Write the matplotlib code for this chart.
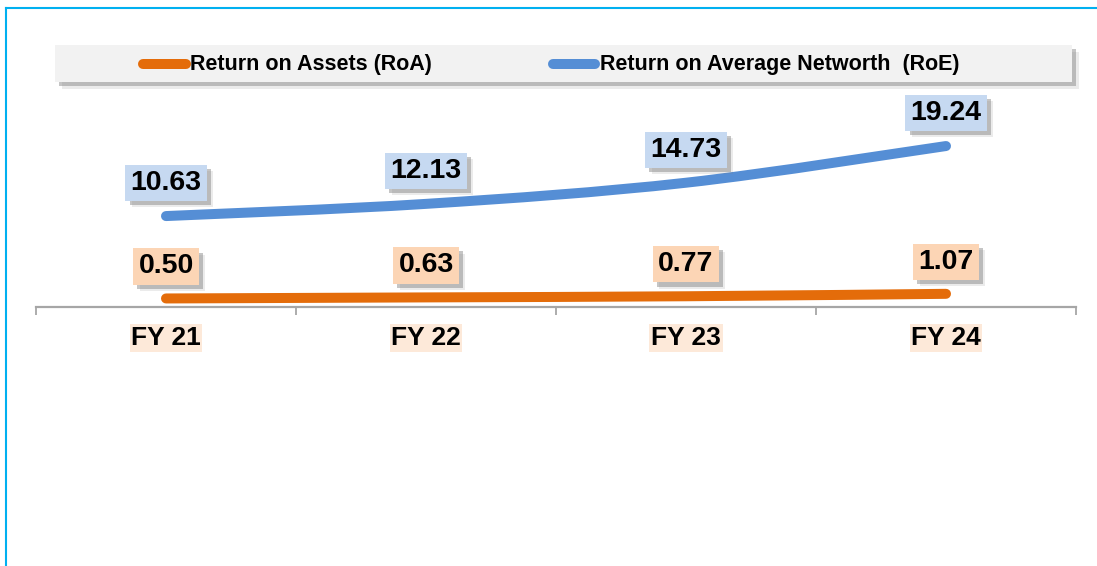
import matplotlib
matplotlib.use("Agg")
import matplotlib.pyplot as plt
from matplotlib.path import Path
from matplotlib.patches import PathPatch, Rectangle
from matplotlib.lines import Line2D
import matplotlib.patheffects as pe
import numpy as np

categories = ["FY 21", "FY 22", "FY 23", "FY 24"]
roa = [0.50, 0.63, 0.77, 1.07]
roe = [10.63, 12.13, 14.73, 19.24]
roa_labels = ["0.50", "0.63", "0.77", "1.07"]
roe_labels = ["10.63", "12.13", "14.73", "19.24"]
series_names = ["Return on Assets (RoA)", "Return on Average Networth  (RoE)"]

ORANGE = "#e46c0a"
BLUE = "#558ed5"
plt.rcParams['font.family'] = ['Liberation Sans', 'DejaVu Sans']

W, H = 1097, 566
fig = plt.figure(figsize=(W / 100, H / 100), dpi=100)
fig.patch.set_facecolor("white")

# overlay axes in pixel coordinates for border and legend
ov = fig.add_axes([0, 0, 1, 1], zorder=0)
ov.set_xlim(0, W)
ov.set_ylim(H, 0)
ov.axis("off")

# main axes
ax_left, ax_right, ax_top, ax_bot = 36, 1076, 100, 307
ax = fig.add_axes([ax_left / W, (H - ax_bot) / H, (ax_right - ax_left) / W, (ax_bot - ax_top) / H], zorder=2)
ax.patch.set_alpha(0)
x = np.arange(len(categories))
ax.set_xlim(-0.5, len(categories) - 0.5)
ax.set_ylim(-0.55, 24.9)
for s in ["top", "right", "left"]:
    ax.spines[s].set_visible(False)
ax.spines["bottom"].set_color("#a6a6a6")
ax.spines["bottom"].set_linewidth(1.6)
ax.set_yticks([])
ax.set_xticks(np.arange(-0.5, len(categories), 1.0))
ax.set_xticklabels([])
ax.tick_params(axis="x", direction="out", length=6, width=1.3, color="#a6a6a6")


def smooth_path(xs, ys):
    pts = list(zip(xs, ys))
    n = len(pts)
    verts = [pts[0]]
    codes = [Path.MOVETO]
    for i in range(n - 1):
        p0 = pts[i - 1] if i > 0 else pts[i]
        p1 = pts[i]
        p2 = pts[i + 1]
        p3 = pts[i + 2] if i + 2 < n else pts[i + 1]
        c1 = (p1[0] + (p2[0] - p0[0]) / 6, p1[1] + (p2[1] - p0[1]) / 6)
        c2 = (p2[0] - (p3[0] - p1[0]) / 6, p2[1] - (p3[1] - p1[1]) / 6)
        verts += [c1, c2, p2]
        codes += [Path.CURVE4] * 3
    return Path(verts, codes)


for vals, col in [(roa, ORANGE), (roe, BLUE)]:
    pp = PathPatch(smooth_path(x, vals), facecolor="none", edgecolor=col, lw=7.2,
                   capstyle="round", joinstyle="round", zorder=3)
    ax.add_patch(pp)

shadow_fx = [pe.SimplePatchShadow(offset=(3, -3), shadow_rgbFace="#7f7f7f", alpha=0.45),
             pe.SimplePatchShadow(offset=(4.5, -4.5), shadow_rgbFace="#7f7f7f", alpha=0.15),
             pe.Normal()]


def shadow_label(xv, yv, txt, fc, dy, size):
    t = ax.annotate(txt, (xv, yv), xytext=(0, dy), textcoords="offset pixels",
                    ha="center", va="center", fontsize=size, fontweight="bold", color="black",
                    bbox=dict(boxstyle="square,pad=0.18", fc=fc, ec="none"), zorder=5,
                    annotation_clip=False)
    t.get_bbox_patch().set_path_effects(shadow_fx)


for i in range(len(categories)):
    shadow_label(x[i], roe[i], roe_labels[i], "#c6d9f1", 33, 20.5)
    shadow_label(x[i], roa[i], roa_labels[i], "#fcd5b5", 32, 20.5)

# category labels
for i, c in enumerate(categories):
    ax.annotate(c, (x[i], ax.get_ylim()[0]), xytext=(0, -31), textcoords="offset pixels",
                ha="center", va="center", fontsize=19, fontweight="bold", color="black",
                bbox=dict(boxstyle="square,pad=0.06", fc="#fde9d9", ec="none"),
                annotation_clip=False, zorder=5)

# border
ov.add_line(Line2D([5.5, W], [7.5, 7.5], color="#00b0f0", lw=1.5))
ov.add_line(Line2D([5.5, 5.5], [7.5, H], color="#00b0f0", lw=1.5))

# legend box with shadow
lx0, ly0, lx1, ly1 = 55, 45, 1072, 82
leg = Rectangle((lx0, ly0), lx1 - lx0, ly1 - ly0, fc="#f2f2f2", ec="none")
leg.set_path_effects([pe.SimplePatchShadow(offset=(3, -3), shadow_rgbFace="#7f7f7f", alpha=0.45),
                      pe.SimplePatchShadow(offset=(5, -5), shadow_rgbFace="#7f7f7f", alpha=0.15),
                      pe.Normal()])
ov.add_patch(leg)
ly = (ly0 + ly1) / 2
ov.add_line(Line2D([143, 186], [ly, ly], color=ORANGE, lw=7.2, solid_capstyle="round"))
ov.text(190, ly + 1, series_names[0], ha="left", va="center", fontsize=15.5, fontweight="bold")
ov.add_line(Line2D([553, 595], [ly, ly], color=BLUE, lw=7.2, solid_capstyle="round"))
ov.text(600, ly + 1, series_names[1], ha="left", va="center", fontsize=15.5, fontweight="bold")

fig.savefig("out.png", dpi=100)
